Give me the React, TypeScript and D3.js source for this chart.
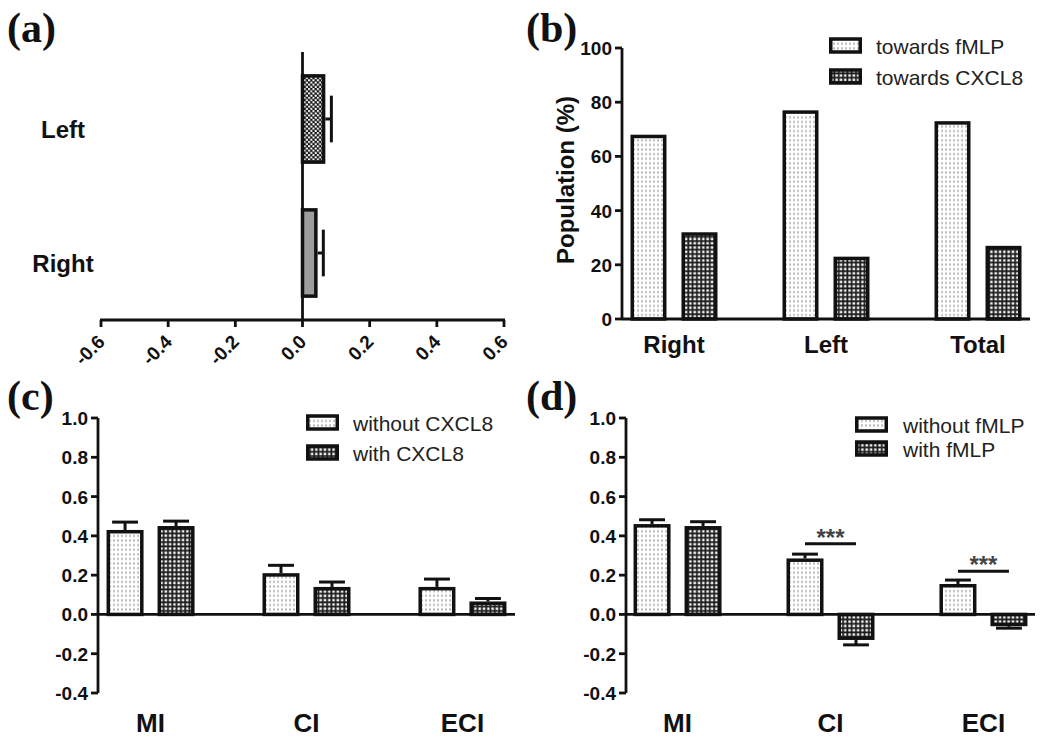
import React from "react";
import * as d3 from "d3";

// ---------- data ----------
const aCategories = ["Left", "Right"];
const aValues = [0.068, 0.045];
const aErrors = [0.018, 0.017];
const aTicks = [-0.6, -0.4, -0.2, 0.0, 0.2, 0.4, 0.6];

const bCategories = ["Right", "Left", "Total"];
const bSeries = ["towards fMLP", "towards CXCL8"];
const bTowardsFmlp = [68, 77, 73];
const bTowardsCxcl8 = [32, 23, 27];
const bTicks = [0, 20, 40, 60, 80, 100];

const indexCategories = ["MI", "CI", "ECI"];
const indexTicks = [-0.4, -0.2, 0.0, 0.2, 0.4, 0.6, 0.8, 1.0];

const cSeries = ["without CXCL8", "with CXCL8"];
const cWithout = [0.43, 0.21, 0.14];
const cWithoutErr = [0.04, 0.04, 0.04];
const cWith = [0.45, 0.14, 0.066];
const cWithErr = [0.025, 0.025, 0.015];

const dSeries = ["without fMLP", "with fMLP"];
const dWithout = [0.46, 0.285, 0.155];
const dWithoutErr = [0.022, 0.022, 0.02];
const dWith = [0.45, -0.13, -0.06];
const dWithErr = [0.022, 0.025, 0.01];
const dSigCategories = ["CI", "ECI"];
const dSigLevels = [0.36, 0.22];
const dSigLabels = ["***", "***"];

// ---------- styles ----------
const SANS = "'Liberation Sans', Arial, Helvetica, sans-serif";
const SERIF = "'Liberation Serif', 'Times New Roman', serif";
const FILLS = ["url(#dots)", "url(#grid)"];

function Patterns() {
  return (
    <defs>
      <pattern id="dots" width={4} height={4.6} patternUnits="userSpaceOnUse">
        <rect width={4} height={4.6} fill="#ffffff" />
        <rect x={1.4} y={1.2} width={1.3} height={2.2} fill="#9a9a9a" />
      </pattern>
      <pattern id="grid" width={4.3} height={4.3} patternUnits="userSpaceOnUse">
        <rect width={4.3} height={4.3} fill="#1c1c1c" />
        <rect x={1.2} y={1.2} width={2.5} height={2.5} fill="#f2f2f2" />
      </pattern>
      <pattern id="checker" width={4.4} height={4.4} patternUnits="userSpaceOnUse">
        <rect width={4.4} height={4.4} fill="#111" />
        <circle cx={1.1} cy={1.1} r={1.15} fill="#fff" />
        <circle cx={3.3} cy={3.3} r={1.15} fill="#fff" />
      </pattern>
    </defs>
  );
}

function PanelLabel({ text, x, y }: { text: string; x: number; y: number }) {
  return (
    <text x={x} y={y} fontFamily={SERIF} fontWeight="bold" fontSize={42} fill="#111">
      {text}
    </text>
  );
}

function PanelA() {
  const x = d3.scaleLinear().domain([-0.6, 0.6]).range([101, 504]);
  const y = d3
    .scaleBand<string>()
    .domain(aCategories)
    .range([52, 320])
    .paddingInner(0.33)
    .paddingOuter(0.165);
  const bw = y.bandwidth();
  const x0 = x(0);
  const aFills = ["url(#checker)", "#9d9d9d"];
  return (
    <g>
      <PanelLabel text="(a)" x={7} y={42} />
      {aCategories.map((c, i) => {
        const top = y(c)!;
        const xe = x(aValues[i] + aErrors[i]);
        const cy = top + bw / 2;
        return (
          <g key={c}>
            <line x1={x(aValues[i])} x2={xe} y1={cy} y2={cy} stroke="#111" strokeWidth={3} />
            <line x1={xe} x2={xe} y1={cy - bw * 0.26} y2={cy + bw * 0.26} stroke="#111" strokeWidth={3} />
            <rect
              x={x0}
              y={top + 1.75}
              width={x(aValues[i]) - x0 - 1.75}
              height={bw - 3.5}
              fill={aFills[i]}
              stroke="#111"
              strokeWidth={3.5}
            />
            <text
              x={63}
              y={cy + 19}
              textAnchor="middle"
              fontFamily={SANS}
              fontWeight="bold"
              fontSize={24}
              fill="#111"
            >
              {c}
            </text>
          </g>
        );
      })}
      <line x1={x0} x2={x0} y1={52} y2={320} stroke="#111" strokeWidth={2.8} />
      <line x1={x(-0.6) - 1} x2={x(0.6) + 1} y1={320} y2={320} stroke="#111" strokeWidth={2.8} />
      {aTicks.map((t) => (
        <g key={t}>
          <line x1={x(t)} x2={x(t)} y1={320} y2={327} stroke="#111" strokeWidth={2.8} />
          <text
            transform={`translate(${x(t) + 5},${343}) rotate(-45)`}
            textAnchor="end"
            fontFamily={SANS}
            fontWeight="bold"
            fontSize={19}
            fill="#111"
          >
            {t.toFixed(1)}
          </text>
        </g>
      ))}
    </g>
  );
}

type GroupedProps = {
  label: string;
  labelX: number;
  labelY: number;
  categories: string[];
  series: string[];
  values: number[][];
  errors?: number[][];
  ticks: number[];
  fmt: (v: number) => string;
  yDomain: [number, number];
  yRange: [number, number];
  xRange: [number, number];
  padding: number;
  barW: number;
  gap: number;
  catLabelY: number;
  catFont: number;
  legendX: number;
  legendY: number[];
  legendTextX: number;
  legendFont: number;
  yTitle?: { text: string; x: number; y: number };
  sig?: { cats: string[]; levels: number[]; labels: string[] };
};

function GroupedPanel(p: GroupedProps) {
  const y = d3.scaleLinear().domain(p.yDomain).range(p.yRange);
  const x = d3.scalePoint<string>().domain(p.categories).range(p.xRange).padding(p.padding);
  const y0 = y(0);
  const sw = 3.5;
  const barX = (c: string, s: number) => x(c)! + (s === 0 ? -p.gap / 2 - p.barW : p.gap / 2);
  const topTick = d3.max(p.ticks)!;
  const botTick = d3.min(p.ticks)!;
  return (
    <g>
      <PanelLabel text={p.label} x={p.labelX} y={p.labelY} />
      {p.series.map((s, si) =>
        p.categories.map((c, ci) => {
          const v = p.values[si][ci];
          const bx = barX(c, si);
          const cx = bx + p.barW / 2;
          const yv = y(v);
          const e = p.errors ? p.errors[si][ci] : 0;
          const ye = v >= 0 ? y(v + e) : y(v - e);
          const capW = p.barW * 0.7;
          return (
            <g key={s + c}>
              {p.errors && (
                <g stroke="#111" strokeWidth={3}>
                  <line x1={cx} x2={cx} y1={yv} y2={ye} />
                  <line x1={cx - capW / 2} x2={cx + capW / 2} y1={ye} y2={ye} />
                </g>
              )}
              <rect
                x={bx + sw / 2}
                y={Math.min(yv, y0) + (v >= 0 ? sw / 2 : 0)}
                width={p.barW - sw}
                height={Math.abs(y0 - yv) - sw / 2}
                fill={FILLS[si]}
                stroke="#111"
                strokeWidth={sw}
              />
            </g>
          );
        })
      )}
      {/* axes */}
      <line x1={p.xRange[0]} x2={p.xRange[1]} y1={y0} y2={y0} stroke="#111" strokeWidth={2.8} />
      <line x1={p.xRange[0]} x2={p.xRange[0]} y1={y(topTick)} y2={y(botTick)} stroke="#111" strokeWidth={2.8} />
      {p.ticks.map((t) => (
        <g key={t}>
          <line x1={p.xRange[0] - 7} x2={p.xRange[0]} y1={y(t)} y2={y(t)} stroke="#111" strokeWidth={2.8} />
          <text
            x={p.xRange[0] - 10}
            y={y(t) + 7}
            textAnchor="end"
            fontFamily={SANS}
            fontWeight="bold"
            fontSize={19}
            fill="#111"
          >
            {p.fmt(t)}
          </text>
        </g>
      ))}
      {p.categories.map((c) => (
        <text
          key={c}
          x={x(c)!}
          y={p.catLabelY}
          textAnchor="middle"
          fontFamily={SANS}
          fontWeight="bold"
          fontSize={p.catFont}
          fill="#111"
        >
          {c}
        </text>
      ))}
      {p.yTitle && (
        <text
          transform={`translate(${p.yTitle.x},${p.yTitle.y}) rotate(-90)`}
          textAnchor="middle"
          fontFamily={SANS}
          fontWeight="bold"
          fontSize={24}
          fill="#111"
        >
          {p.yTitle.text}
        </text>
      )}
      {p.sig &&
        p.sig.cats.map((c, i) => {
          const x1 = barX(c, 0) + p.barW / 2;
          const x2 = barX(c, 1) + p.barW / 2;
          const ly = y(p.sig!.levels[i]);
          return (
            <g key={"sig" + c}>
              <line x1={x1} x2={x2} y1={ly} y2={ly} stroke="#111" strokeWidth={3} />
              <text
                x={(x1 + x2) / 2}
                y={ly + 2}
                textAnchor="middle"
                fontFamily={SANS}
                fontWeight="bold"
                fontSize={24}
                fill="#444"
              >
                {p.sig!.labels[i]}
              </text>
            </g>
          );
        })}
      {/* legend */}
      {p.series.map((s, si) => (
        <g key={"leg" + s}>
          <rect
            x={p.legendX + 1.75}
            y={p.legendY[si] - 15}
            width={29.5}
            height={13}
            fill={FILLS[si]}
            stroke="#111"
            strokeWidth={3.5}
          />
          <text x={p.legendTextX} y={p.legendY[si]} fontFamily={SANS} fontSize={p.legendFont} fill="#222">
            {s}
          </text>
        </g>
      ))}
    </g>
  );
}

export default function App() {
  return (
    <svg
      width={1050}
      height={739}
      viewBox="0 0 1050 739"
      style={{ position: "absolute", left: 0, top: 0, background: "#fff" }}
    >
      <rect width={1050} height={739} fill="#fff" />
      <Patterns />
      <PanelA />
      <GroupedPanel
        label="(b)"
        labelX={526}
        labelY={42}
        categories={bCategories}
        series={bSeries}
        values={[bTowardsFmlp, bTowardsCxcl8]}
        ticks={bTicks}
        fmt={(v) => String(v)}
        yDomain={[0, 100]}
        yRange={[319, 48]}
        xRange={[622, 1030]}
        padding={0.342}
        barW={36}
        gap={15}
        catLabelY={353}
        catFont={24}
        legendX={829}
        legendY={[54, 85]}
        legendTextX={876}
        legendFont={21}
        yTitle={{ text: "Population (%)", x: 574, y: 180 }}
      />
      <GroupedPanel
        label="(c)"
        labelX={7}
        labelY={410}
        categories={indexCategories}
        series={cSeries}
        values={[cWithout, cWith]}
        errors={[cWithoutErr, cWithErr]}
        ticks={indexTicks}
        fmt={(v) => v.toFixed(1)}
        yDomain={[-0.4, 1.0]}
        yRange={[693, 418]}
        xRange={[98, 515]}
        padding={0.337}
        barW={37}
        gap={14}
        catLabelY={732}
        catFont={26}
        legendX={306}
        legendY={[431, 461]}
        legendTextX={353}
        legendFont={21}
      />
      <GroupedPanel
        label="(d)"
        labelX={526}
        labelY={410}
        categories={indexCategories}
        series={dSeries}
        values={[dWithout, dWith]}
        errors={[dWithoutErr, dWithErr]}
        ticks={indexTicks}
        fmt={(v) => v.toFixed(1)}
        yDomain={[-0.4, 1.0]}
        yRange={[693, 418]}
        xRange={[626, 1035]}
        padding={0.337}
        barW={37}
        gap={14}
        catLabelY={732}
        catFont={26}
        legendX={855}
        legendY={[433, 457]}
        legendTextX={903}
        legendFont={21}
        sig={{ cats: dSigCategories, levels: dSigLevels, labels: dSigLabels }}
      />
    </svg>
  );
}
